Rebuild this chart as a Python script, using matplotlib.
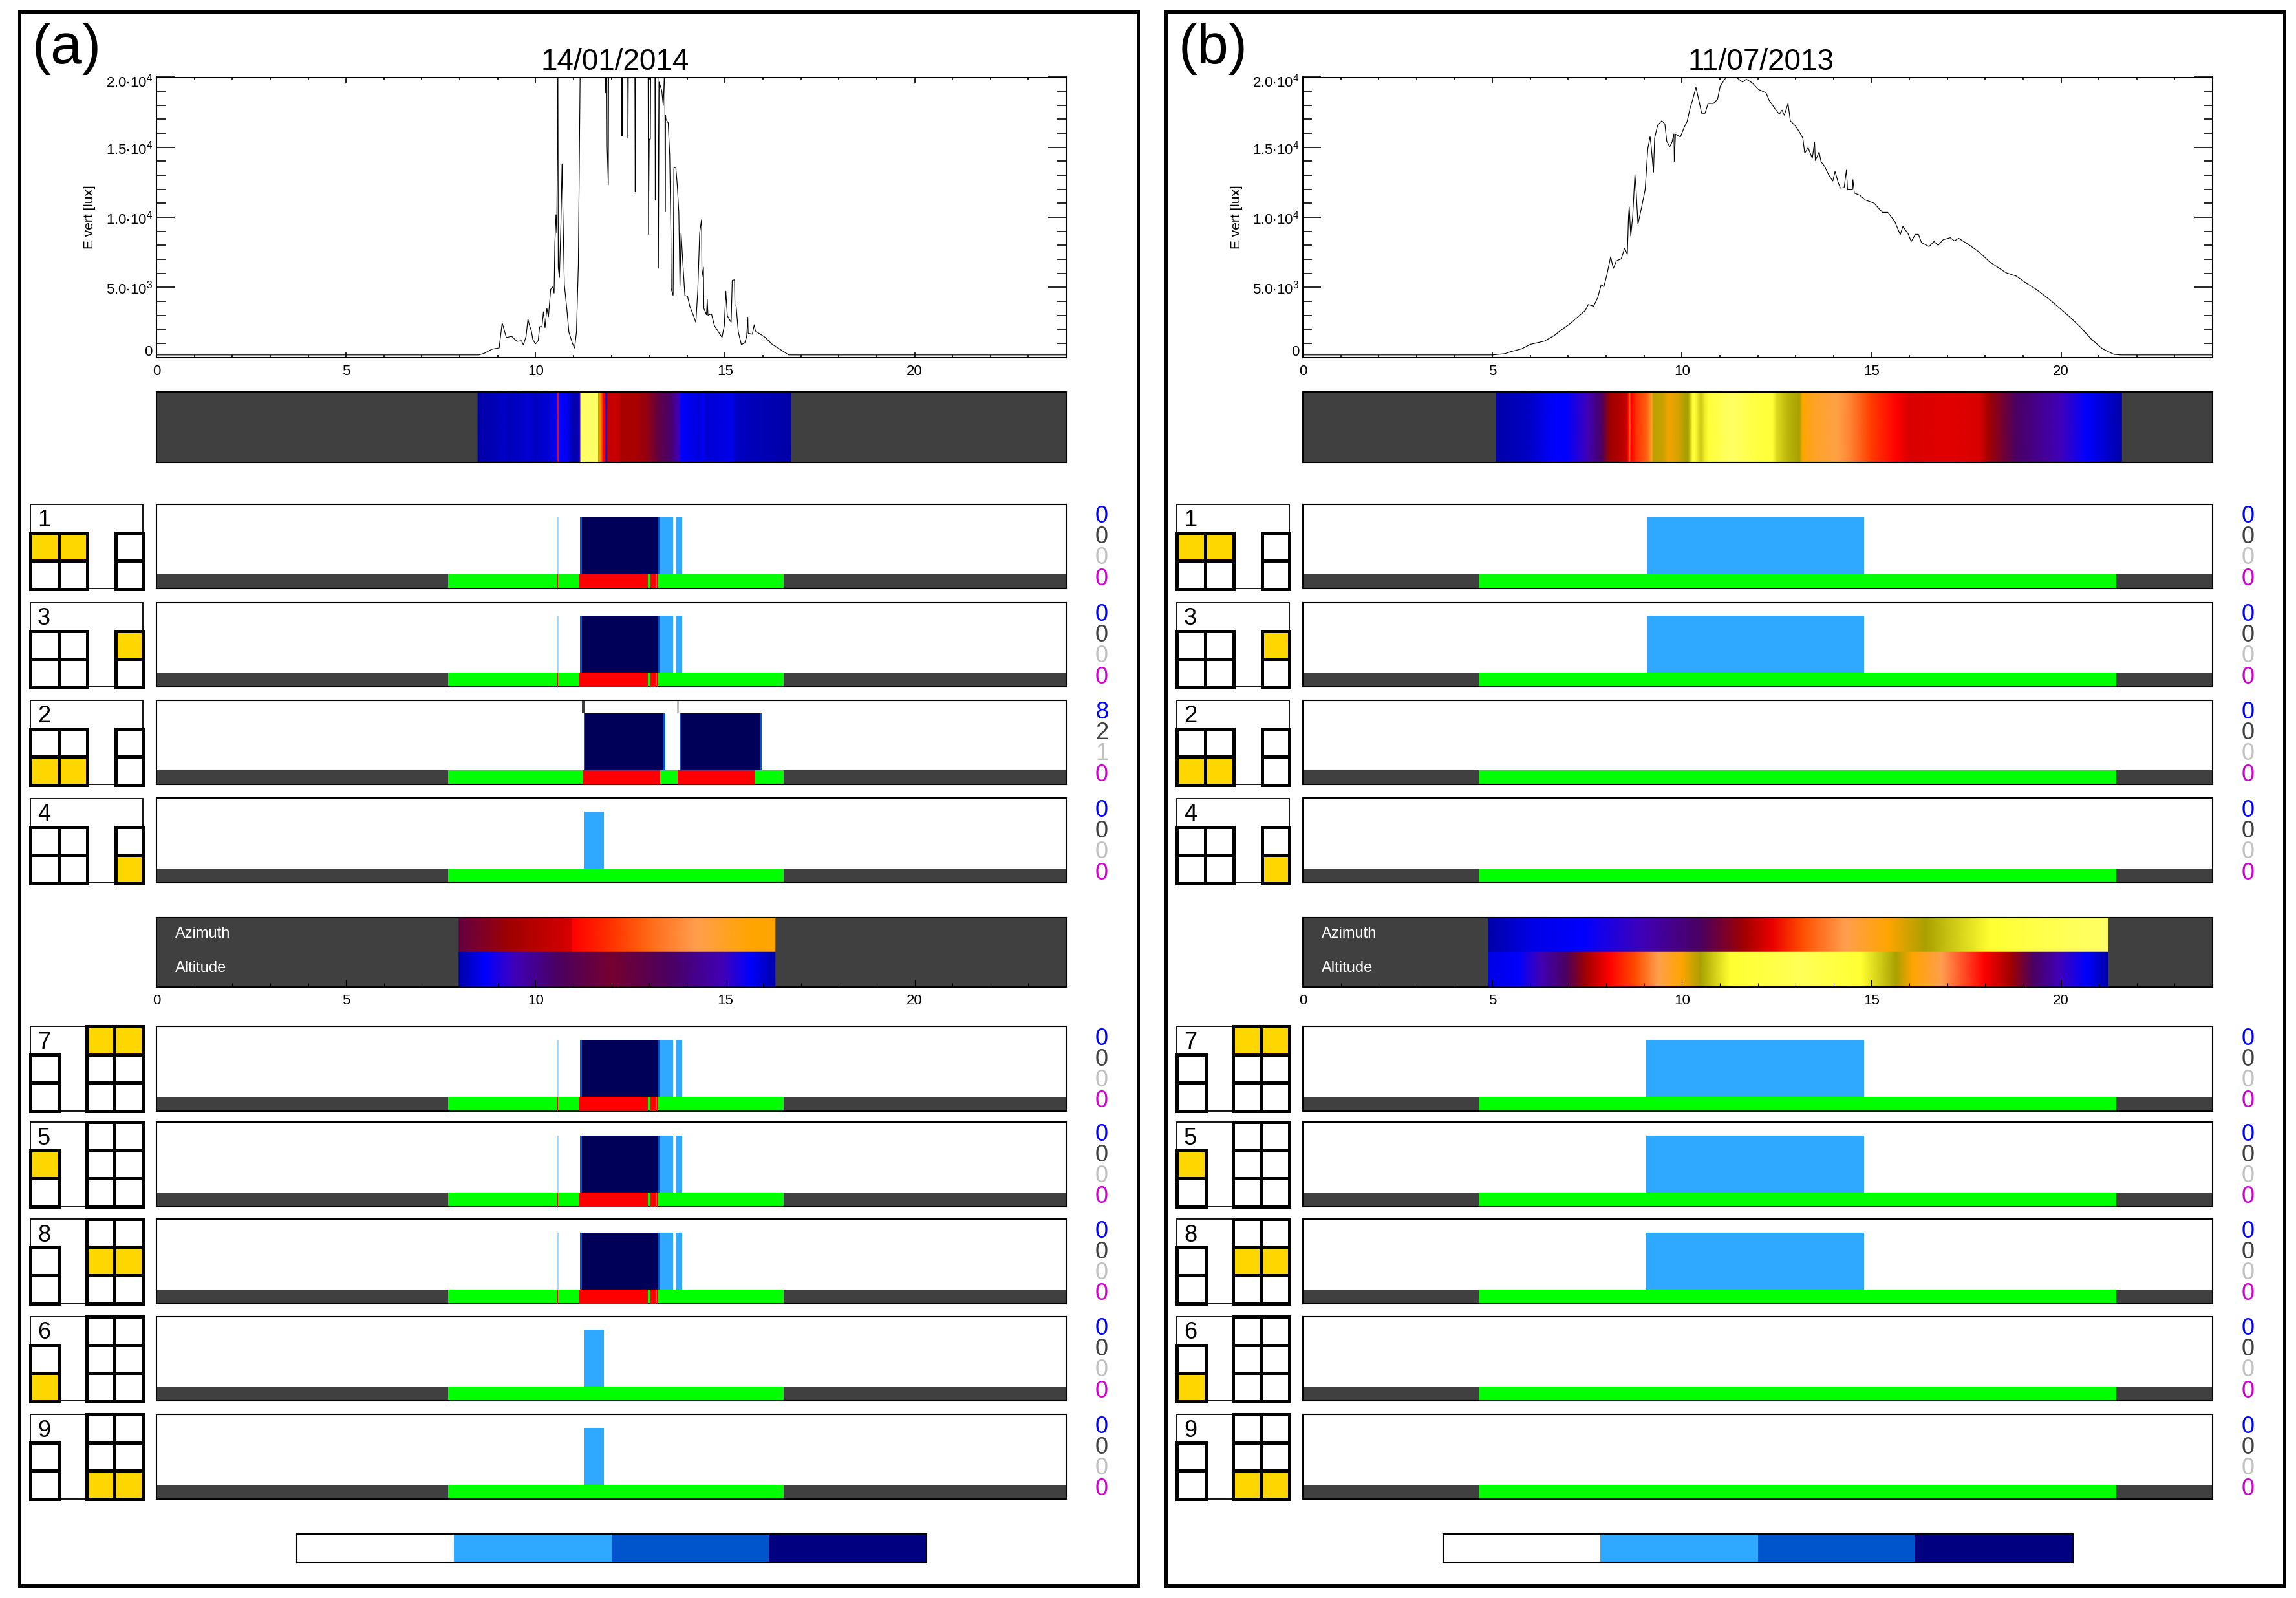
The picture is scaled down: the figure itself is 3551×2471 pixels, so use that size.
import numpy as np
import matplotlib
matplotlib.use('Agg')
import matplotlib.pyplot as plt
from matplotlib.colors import LinearSegmentedColormap, ListedColormap
from matplotlib.patches import Rectangle
from matplotlib.ticker import MultipleLocator

plt.rcParams['font.family'] = ['Liberation Sans', 'DejaVu Sans']
plt.rcParams['mathtext.default'] = 'regular'

W, H = 3551, 2471
DARK = '#404040'
GOLD = '#FFD700'
LIGHT = '#2EA9FF'
MID = '#0055CC'
DEEP = '#000080'
NAVY = '#000058'
PALE = '#A0DCFF'

# sky scale used by the colour strips
sky_levels = [0.0, 0.1, 0.2, 0.3, 0.4, 0.5, 0.58, 0.66, 0.74, 0.82, 0.92, 1.0]
sky_colors = ['#0000A8', '#0000FF', '#4000B8', '#4B0060', '#A00000', '#FF0000',
              '#FF5000', '#FFA050', '#FFA500', '#A8A000', '#FFFF30', '#FFFF66']

# illuminance, 14/01/2014
hours_a = [0, 8.5, 8.65, 8.85, 9.04, 9.12, 9.23, 9.37, 9.49, 9.52, 9.63, 9.68, 9.75, 9.80, 9.83, 9.89,
           9.93, 10.0, 10.07, 10.11, 10.17, 10.21, 10.25, 10.30, 10.34, 10.40, 10.46, 10.49, 10.51, 10.54,
           10.56, 10.59, 10.60, 10.63, 10.67, 10.70, 10.72, 10.76, 10.83, 10.88, 10.97, 11.03, 11.08, 11.13,
           11.17, 11.18, 11.84, 11.85, 11.87, 11.88, 11.89, 11.92, 11.93, 12.27, 12.28, 12.29, 12.43, 12.44,
           12.45, 12.62, 12.63, 12.64, 12.97, 12.98, 13.0, 13.03, 13.04, 13.15, 13.16, 13.17, 13.19, 13.2,
           13.23, 13.24, 13.26, 13.33, 13.37, 13.41, 13.42, 13.43, 13.44, 13.5, 13.54, 13.57, 13.58, 13.63,
           13.65, 13.70, 13.74, 13.78, 13.81, 13.84, 13.89, 13.94, 14.01, 14.07, 14.18, 14.23, 14.28, 14.33,
           14.38, 14.39, 14.43, 14.44, 14.51, 14.53, 14.55, 14.64, 14.72, 14.83, 14.92, 14.98, 15.02, 15.06,
           15.16, 15.19, 15.25, 15.26, 15.29, 15.35, 15.43, 15.52, 15.57, 15.60, 15.61, 15.72, 15.77, 15.80,
           16.06, 16.23, 16.45, 16.68, 24]
lux_a = [170, 170, 290, 580, 670, 2470, 1410, 1500, 1190, 1140, 1185, 880, 1490, 2730, 2390, 1880,
         1260, 955, 1185, 2190, 2190, 3265, 2110, 3500, 2880, 4850, 5040, 4570, 8120, 10200,
         8890, 21000, 6420, 5680, 9580, 13840, 10730, 5190, 3340, 1800, 1030, 650, 1800, 6650,
         17740, 21000, 21000, 18860, 21000, 21000, 15050, 12300, 21000, 21000, 15800, 21000, 21000, 15690,
         21000, 21000, 11810, 21000, 21000, 8760, 15580, 15580, 21000, 21000, 11230, 21000, 21000, 21000,
         21000, 6340, 19670, 19050, 17970, 21000, 10380, 17280, 17000, 16740, 14430, 9040, 4880, 4420,
         13510, 13580, 12270, 10350, 5040, 8890, 6580, 4420, 4350, 3650, 2880, 2490, 4730, 8890,
         9840, 5730, 6450, 3500, 3030, 4140, 3000, 3110, 2260, 1800, 1420, 2260, 4730, 2960,
         2490, 5500, 5530, 3730, 3730, 1800, 910, 1030, 1490, 2880, 1720, 1650, 2340, 1880,
         1420, 955, 570, 170, 170]

# illuminance, 11/07/2013
hours_b = [0, 5.0, 5.33, 5.5, 5.77, 6.0, 6.37, 6.64, 6.8, 7.02, 7.24, 7.45, 7.53, 7.67, 7.78, 7.87, 7.94, 8.02,
           8.12, 8.19, 8.27, 8.40, 8.49, 8.56, 8.59, 8.61, 8.65, 8.70, 8.76, 8.79, 8.84, 8.92, 9.03, 9.10, 9.16,
           9.19, 9.25, 9.28, 9.36, 9.47, 9.55, 9.60, 9.68, 9.74, 9.79, 9.80, 9.83, 9.96, 10.06, 10.14, 10.21,
           10.28, 10.37, 10.45, 10.52, 10.61, 10.69, 10.83, 10.94, 11.01, 11.12, 11.17, 11.3, 11.43, 11.60, 11.70,
           11.86, 12.02, 12.22, 12.30, 12.46, 12.57, 12.64, 12.70, 12.80, 12.86, 13.0, 13.11, 13.19, 13.24, 13.33,
           13.44, 13.50, 13.52, 13.62, 13.67, 13.76, 13.87, 13.98, 14.04, 14.12, 14.18, 14.28, 14.34, 14.37, 14.50,
           14.51, 14.55, 14.69, 14.85, 15.07, 15.29, 15.43, 15.61, 15.76, 15.83, 15.97, 16.05, 16.16, 16.24, 16.32,
           16.52, 16.65, 16.76, 16.89, 17.08, 17.19, 17.30, 17.57, 17.85, 18.12, 18.34, 18.55, 18.82, 19.10, 19.37,
           19.70, 19.97, 20.20, 20.5, 20.8, 21.1, 21.4, 21.6, 24]
lux_b = [170, 170, 262, 416, 600, 924, 1155, 1570, 1925, 2340, 2850, 3340, 3770, 3650, 4265, 5190, 5035, 5880,
         7190, 6340, 6880, 7040, 7810, 7350, 10000, 10760, 8650, 10000, 13070, 12040, 9500, 10500, 11970, 14890, 15770,
         15050, 13200, 15660, 16580, 16890, 16660, 15430, 15050, 15380, 15970, 13970, 15940, 15740, 16430, 16860, 17740,
         18360, 19280, 18310, 17430, 17430, 18130, 18130, 18430, 19360, 19820, 20000, 20300, 20000, 19660, 19860,
         19590, 19130, 18890, 18360, 17740, 17360, 17660, 17280, 18130, 16890, 16510, 16050, 15660, 14580, 14970,
         14200, 15380, 14040, 14660, 13970, 13660, 13040, 12580, 13270, 12510, 12090, 12120, 13380, 11970, 11970,
         12700, 11730, 11580, 11220, 11010, 10350, 10350, 9730, 8760, 9350, 8810, 8270, 8780, 8780, 8190,
         7910, 8270, 8000, 8390, 8540, 8310, 8500, 8040, 7500, 6810, 6420, 6040, 5800, 5270, 4810,
         4120, 3500, 2960, 2200, 1300, 600, 210, 170, 170]

# sky strip under each curve
strip_hours_a = [8.48, 9.0, 9.2, 9.3, 9.8, 10.0, 10.4, 10.55, 10.585, 10.585, 10.62, 10.62, 10.72, 10.85, 11.0, 11.14,
                 11.17, 11.19, 11.19, 11.66, 11.66, 11.70, 11.74, 11.79, 11.85, 11.85, 11.90, 11.90, 12.2, 12.25,
                 12.64, 12.97, 13.23, 13.56, 13.78, 13.85, 14.34, 14.40, 14.5, 15.19, 15.3, 16.66, 16.73]
strip_sky_a = [0.0, 0.02, 0.04, 0.02, 0.05, 0.03, 0.06, 0.1, 0.1, 0.5, 0.5, 0.1, 0.1, 0.08, 0.0, 0.02,
               0.2, 0.2, 1.0, 1.0, 0.8, 0.76, 0.6, 0.5, 0.5, 0.25, 0.25, 0.44, 0.44, 0.41,
               0.41, 0.38, 0.33, 0.29, 0.2, 0.1, 0.06, 0.1, 0.05, 0.08, 0.03, 0.0, 0.0]
strip_hours_b = [5.1, 5.9, 6.67, 6.96, 7.5, 7.88, 8.09, 8.4, 8.55, 8.58, 8.62, 8.66, 8.8, 9.09, 9.2, 9.25, 9.5, 9.64,
                 9.93, 10.1, 10.17, 10.28, 10.35, 10.5, 10.6, 10.7, 11.34, 11.9, 12.4, 12.5, 12.8, 13.1, 13.18,
                 13.5, 14.1, 14.45, 15.0, 15.65, 16.0, 17.0, 17.85, 18.1, 18.8, 20.0, 20.67, 21.6]
strip_sky_b = [0.0, 0.03, 0.1, 0.1, 0.2, 0.3, 0.4, 0.42, 0.45, 0.5, 0.6, 0.5, 0.55, 0.6, 0.7, 0.8, 0.79, 0.75,
               0.78, 0.82, 0.82, 0.93, 0.93, 0.86, 0.9, 0.93, 1.0, 0.95, 0.93, 0.88, 0.84, 0.82, 0.74,
               0.7, 0.67, 0.63, 0.56, 0.5, 0.46, 0.47, 0.46, 0.4, 0.3, 0.2, 0.1, 0.0]

# azimuth and altitude strips
az_hours_a = [7.98, 9.3, 10.97, 10.97, 11.99, 12.91, 14.25, 15.67, 16.32]
az_sky_a = [0.33, 0.4, 0.46, 0.5, 0.55, 0.6, 0.66, 0.74, 0.74]
alt_hours_a = [7.98, 8.67, 9.45, 10.58, 11.99, 13.55, 14.96, 15.67, 16.32]
alt_sky_a = [0.0, 0.1, 0.2, 0.3, 0.35, 0.3, 0.2, 0.1, 0.0]
az_hours_b = [4.89, 5.97, 7.38, 8.94, 10.49, 11.62, 12.40, 13.18, 14.31, 15.44, 16.43, 18.13, 20.25, 21.24]
az_sky_b = [0.0, 0.07, 0.1, 0.2, 0.3, 0.4, 0.48, 0.58, 0.66, 0.74, 0.82, 0.92, 0.98, 1.0]
alt_hours_b = [4.89, 5.68, 6.25, 6.95, 7.45, 8.09, 8.79, 9.36, 9.99, 10.49, 11.27, 13.18, 14.73, 15.65, 16.08, 16.85,
               17.98, 18.69, 19.26, 19.96, 20.67, 21.24]
alt_sky_b = [0.07, 0.1, 0.2, 0.3, 0.4, 0.5, 0.58, 0.66, 0.74, 0.82, 0.92, 0.98, 0.92, 0.82, 0.74, 0.66,
             0.5, 0.4, 0.3, 0.2, 0.1, 0.0]

# window panels, side a
storm_pale = [(10.58, 0.03)]
storm_mid = [(11.18, 0.05), (13.24, 0.05)]
storm_navy = [(11.23, 2.01)]
storm_light = [(13.29, 0.34), (13.70, 0.16)]
storm_red = [(10.575, 0.015), (11.15, 1.82), (12.99, 0.012), (13.03, 0.15), (13.2, 0.02)]
band_a = (7.7, 8.85)

wide_navy = [(11.3, 2.08), (13.84, 2.09)]
wide_mid = [(11.27, 0.03), (13.38, 0.04), (13.80, 0.04), (15.93, 0.04)]
wide_red = [(11.25, 2.03), (13.75, 2.05)]
marks_wide = [11.23, 13.73]

short_light = [(11.27, 0.54)]

# window panels, side b
sunny_light_top = [(9.08, 5.72)]
sunny_light_bottom = [(9.05, 5.75)]
band_b = (4.64, 16.81)

panel_ids_top = ['1', '3', '2', '4']
panel_ids_bottom = ['7', '5', '8', '6', '9']
counts_a = {'2': ['8', '2', '1', '0']}
zero_counts = ['0', '0', '0', '0']
count_colors = ['#0000FF', DARK, '#C0C0C0', '#D000D0']

lux_ticks = [0, 5000, 10000, 15000, 20000]
lux_labels = ['', r'$5.0{\bullet}10^{3}$', r'$1.0{\bullet}10^{4}$', r'$1.5{\bullet}10^{4}$', '']
lux_top_label = r'$2.0{\bullet}10^{4}$'
hour_ticks = [0, 5, 10, 15, 20]
legend_levels = [0, 1, 2, 3]
legend_colors = ['#FFFFFF', LIGHT, MID, DEEP]

sky_map = LinearSegmentedColormap.from_list('sky', list(zip(sky_levels, sky_colors)), N=512)

fig = plt.figure(figsize=(W / 100, H / 100), dpi=100, facecolor='white')
over = fig.add_axes([0, 0, 1, 1], zorder=10)
over.set_xlim(0, W)
over.set_ylim(H, 0)
over.axis('off')
over.patch.set_alpha(0)


def pixel_axes(x0, y0, x1, y1):
    ax = fig.add_axes([x0 / W, 1 - y1 / H, (x1 - x0) / W, (y1 - y0) / H])
    for s in ax.spines.values():
        s.set_linewidth(1.5)
    return ax


def sky_strip(ax, hours, values, y0, y1):
    z = np.array([values, values])
    ax.pcolormesh(hours, [y0, y1], z, cmap=sky_map, vmin=0, vmax=1, shading='gouraud', zorder=1)


def curve_panel(dx, hours, lux, title):
    ax = pixel_axes(242 + dx, 119.5, 1649 + dx, 552.5)
    ax.plot(hours, lux, color='black', lw=0.85, solid_joinstyle='miter')
    ax.set_xlim(0, 24)
    ax.set_ylim(0, 20000)
    ax.set_xticks(hour_ticks)
    ax.xaxis.set_minor_locator(MultipleLocator(1))
    ax.set_yticks(lux_ticks)
    ax.set_yticklabels(lux_labels)
    ax.yaxis.set_minor_locator(MultipleLocator(1000))
    ax.tick_params(axis='x', which='major', direction='in', top=True, length=6.5, width=1.2, labelsize=16, pad=8)
    ax.tick_params(axis='x', which='minor', direction='in', top=True, length=3.2, width=1.2)
    ax.tick_params(axis='y', which='major', direction='in', right=True, length=20, width=1.2, labelsize=16, pad=4)
    ax.tick_params(axis='y', which='minor', direction='in', right=True, length=10, width=1.2)
    # the end labels sit a little inside the axis range
    over.text(236 + dx, 127, lux_top_label, fontsize=16, ha='right', va='center')
    over.text(236 + dx, 544, '0', fontsize=16, ha='right', va='center')
    over.text(139 + dx, 336, 'E vert [lux]', rotation=90, fontsize=15, ha='center', va='center')
    over.text(951 + dx, 108, title, fontsize=33, ha='center', va='baseline')


def strip_panel(dx, hours, values):
    ax = pixel_axes(242 + dx, 606, 1649 + dx, 714.5)
    ax.set_facecolor(DARK)
    sky_strip(ax, hours, values, 0, 1)
    ax.set_xlim(0, 24)
    ax.set_ylim(0, 1)
    ax.set_xticks([])
    ax.set_yticks([])


def sun_panel(dx, az_h, az_v, alt_h, alt_v):
    ax = pixel_axes(242 + dx, 1418.5, 1649 + dx, 1526)
    ax.set_facecolor(DARK)
    sky_strip(ax, az_h, az_v, 0.5, 1)
    sky_strip(ax, alt_h, alt_v, 0, 0.5)
    ax.set_xlim(0, 24)
    ax.set_ylim(0, 1)
    ax.set_yticks([])
    ax.set_xticks(hour_ticks)
    ax.xaxis.set_minor_locator(MultipleLocator(1))
    ax.tick_params(axis='x', which='major', direction='in', length=8, width=0.8, labelsize=16, pad=8)
    ax.tick_params(axis='x', which='minor', direction='in', length=4, width=0.8)
    over.text(271 + dx, 1444, 'Azimuth', color='white', fontsize=17, ha='left', va='center')
    over.text(271 + dx, 1497, 'Altitude', color='white', fontsize=17, ha='left', va='center')


def window_panel(dx, top, band, red=(), navy=(), mid=(), light=(), pale=(), marks=()):
    ax = pixel_axes(242 + dx, top, 1649 + dx, top + 130.5)
    ax.set_xlim(0, 24)
    ax.set_ylim(0, 1)
    ax.set_xticks([])
    ax.set_yticks([])
    ax.broken_barh([(0, 24)], (0, 0.165), facecolors=DARK, zorder=1)
    ax.broken_barh([band], (0, 0.165), facecolors='#00FF00', zorder=2)
    if red:
        ax.broken_barh(list(red), (0, 0.165), facecolors='#FF0000', zorder=3)
    for segs, col in ((pale, PALE), (light, LIGHT), (mid, MID), (navy, NAVY)):
        if segs:
            ax.broken_barh(list(segs), (0.165, 0.675), facecolors=col, zorder=2)
    for m, col in zip(marks, (DARK, '#C0C0C0')):
        ax.broken_barh([(m, 0.06)], (0.84, 0.16), facecolors=col, zorder=2)


def grid_icon(x_edges, y_edges, filled):
    for r, c in filled:
        over.add_patch(Rectangle((x_edges[c], y_edges[r]), x_edges[c + 1] - x_edges[c],
                                 y_edges[r + 1] - y_edges[r], facecolor=GOLD, edgecolor='none'))
    for x in x_edges:
        over.plot([x, x], [y_edges[0], y_edges[-1]], color='black', lw=3.6, solid_capstyle='projecting')
    for y in y_edges:
        over.plot([x_edges[0], x_edges[-1]], [y, y], color='black', lw=3.6, solid_capstyle='projecting')


def icon_box(dx, top, label):
    over.add_patch(Rectangle((47 + dx, top), 174, 130.5, fill=False, edgecolor='black', lw=1.3))
    over.text(68 + dx, top + 34.5, label, fontsize=26, ha='center', va='baseline')


def icon_top(dx, top, label, cells, side):
    icon_box(dx, top, label)
    grid_icon([47 + dx, 91 + dx, 135 + dx], [top + 44, top + 87, top + 131], cells)
    grid_icon([178.5 + dx, 221 + dx], [top + 44, top + 87, top + 131], side)


def icon_bottom(dx, top, label, cells, side):
    icon_box(dx, top, label)
    grid_icon([47 + dx, 92 + dx], [top + 44, top + 87, top + 131], side)
    grid_icon([134 + dx, 177 + dx, 221 + dx], [top, top + 44, top + 87, top + 131], cells)


def count_labels(dx, top, values):
    for off, val, col in zip((19, 51, 83, 116), values, count_colors):
        over.text(1704 + dx, top + off, val, color=col, fontsize=26, ha='center', va='center')


def color_key(dx):
    ax = pixel_axes(459 + dx, 2372, 1433 + dx, 2416)
    ax.imshow([legend_levels], cmap=ListedColormap(legend_colors), aspect='auto', interpolation='nearest')
    ax.set_xticks([])
    ax.set_yticks([])


tops_up = [779.5, 931.5, 1082.5, 1234.5]
tops_down = [1587, 1735, 1885, 2035.5, 2187]
cells_up = {'1': ([(0, 0), (0, 1)], []), '3': ([], [(0, 0)]), '2': ([(1, 0), (1, 1)], []), '4': ([], [(1, 0)])}
cells_down = {'7': ([(0, 0), (0, 1)], []), '5': ([], [(0, 0)]), '8': ([(1, 0), (1, 1)], []),
              '6': ([], [(1, 0)]), '9': ([(2, 0), (2, 1)], [])}

for dx, side in ((0, 'a'), (1773, 'b')):
    over.add_patch(Rectangle((30 + dx, 18), 1730, 2434, fill=False, edgecolor='black', lw=3.6))
    over.text(50 + dx, 98, '(%s)' % side, fontsize=63, ha='left', va='baseline')
    if side == 'a':
        curve_panel(dx, hours_a, lux_a, '14/01/2014')
        strip_panel(dx, strip_hours_a, strip_sky_a)
        sun_panel(dx, az_hours_a, az_sky_a, alt_hours_a, alt_sky_a)
    else:
        curve_panel(dx, hours_b, lux_b, '11/07/2013')
        strip_panel(dx, strip_hours_b, strip_sky_b)
        sun_panel(dx, az_hours_b, az_sky_b, alt_hours_b, alt_sky_b)

    for top, pid in zip(tops_up + tops_down, panel_ids_top + panel_ids_bottom):
        if side == 'a':
            if pid in ('1', '3', '7', '5', '8'):
                window_panel(dx, top, band_a, storm_red, storm_navy, storm_mid, storm_light, storm_pale)
            elif pid == '2':
                window_panel(dx, top, band_a, wide_red, wide_navy, wide_mid, marks=marks_wide)
            else:
                window_panel(dx, top, band_a, light=short_light)
        else:
            if pid in ('1', '3'):
                window_panel(dx, top, band_b, light=sunny_light_top)
            elif pid in ('7', '5', '8'):
                window_panel(dx, top, band_b, light=sunny_light_bottom)
            else:
                window_panel(dx, top, band_b)
        if pid in cells_up:
            icon_top(dx, top, pid, *cells_up[pid])
        else:
            icon_bottom(dx, top, pid, *cells_down[pid])
        if side == 'a':
            count_labels(dx, top, counts_a.get(pid, zero_counts))
        else:
            count_labels(dx, top, zero_counts)
    color_key(dx)

fig.savefig('out.png', dpi=100)
